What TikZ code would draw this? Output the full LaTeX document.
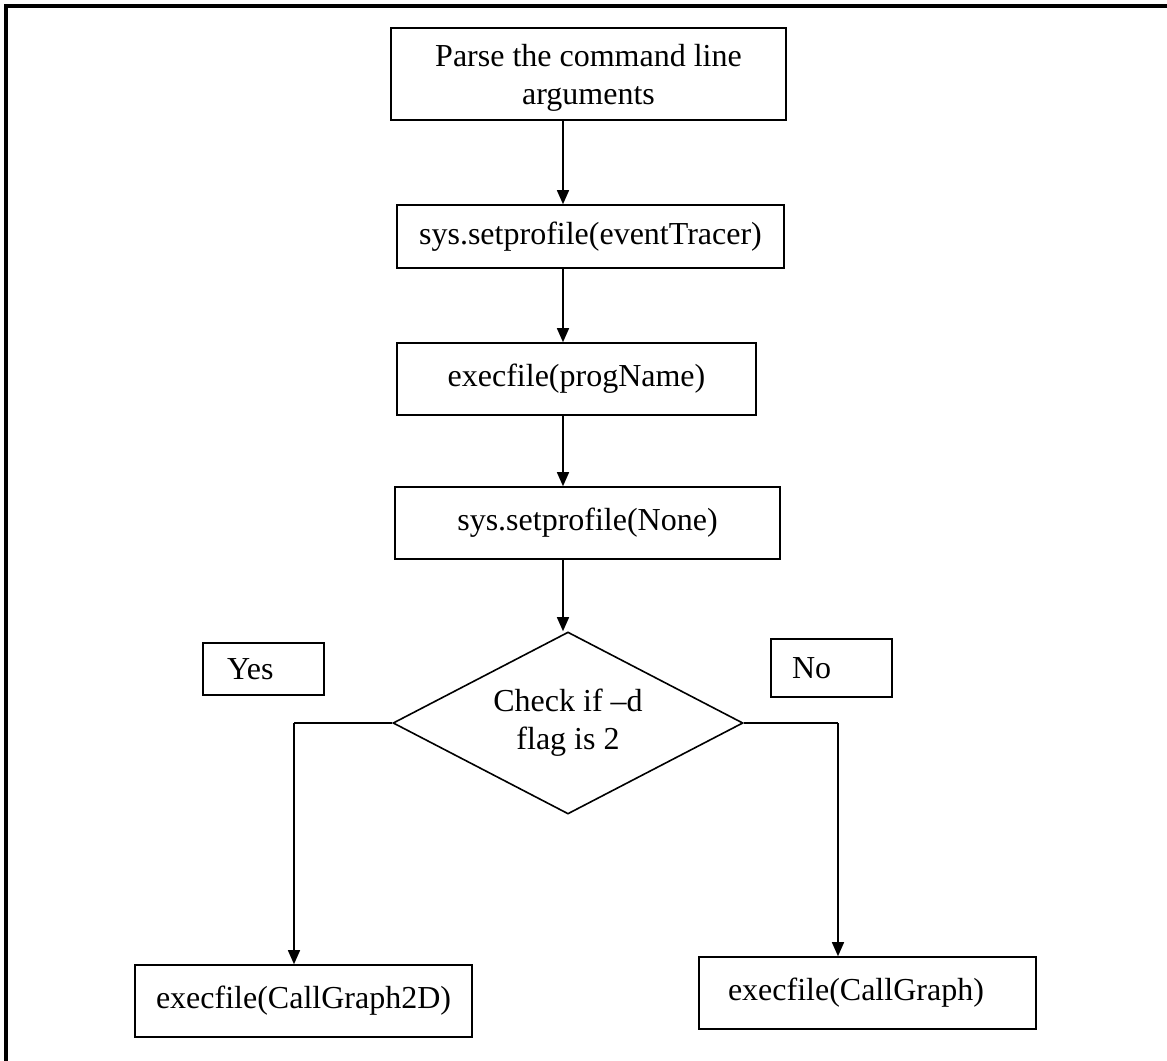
\documentclass[tikz,border=0pt]{standalone}
\usepackage{fontspec}
\setmainfont{Liberation Serif}
\usetikzlibrary{shapes.geometric,arrows.meta}
\begin{document}
\begin{tikzpicture}[x=0.75pt,y=-0.75pt,
  every node/.style={font=\fontsize{24}{28.5}\selectfont},
  box/.style={draw,line width=1.2pt,inner sep=0pt,align=center},
  lbox/.style={draw,line width=1.2pt,inner ysep=0pt,align=left},
  arr/.style={line width=1.1pt,-{Triangle[length=10.5pt,width=9pt]}},
  lin/.style={line width=1.1pt}]
\useasboundingbox (0,0) rectangle (1167,1060);
\draw[line width=2.3pt] (6,1062) -- (6,6) -- (1169,6);

\node[box,minimum width=296.25pt,minimum height=69pt] (b1) at (588.5,74)
  {\rule{0pt}{22pt}Parse the command line\\arguments};
\node[box,minimum width=290.25pt,minimum height=47.25pt] (b2) at (590.5,236.5)
  {sys.setprofile(eventTracer)};
\node[box,minimum width=269.25pt,minimum height=54pt] (b3) at (576.5,379)
  {execfile(progName)};
\node[box,minimum width=288.75pt,minimum height=54pt] (b4) at (587.5,523)
  {sys.setprofile(None)};
\node[diamond,draw,line width=1.2pt,aspect=1.92,minimum width=262.5pt,minimum height=136.5pt,
  inner sep=0pt,align=center] (d) at (568,723) {Check if \textendash d\\flag is 2};
\node[lbox,inner xsep=18pt,text width=54.75pt,minimum height=39pt] (yes) at (263.5,669) {Yes};
\node[lbox,inner xsep=15.75pt,text width=59.25pt,minimum height=43.5pt] (no) at (831.5,668) {No};
\node[box,minimum width=252.75pt,minimum height=54pt] (b5) at (303.5,1001)
  {execfile(CallGraph2D)};
\node[lbox,inner xsep=21.75pt,text width=209.25pt,minimum height=54pt] (b6) at (867.5,993)
  {execfile(CallGraph)};

\coordinate (axis) at (563,0);
\coordinate (yx) at (294,0);
\coordinate (nx) at (838,0);

\draw[arr] (b1.south -| axis) -- (b2.north -| axis);
\draw[arr] (b2.south -| axis) -- (b3.north -| axis);
\draw[arr] (b3.south -| axis) -- (b4.north -| axis);
\draw[arr] (b4.south -| axis) -- (d.north -| axis);
\draw[lin] (d.west) -- (d.west -| yx);
\draw[arr] (d.west -| yx) -- (b5.north -| yx);
\draw[lin] (d.east) -- (d.east -| nx);
\draw[arr] (d.east -| nx) -- (b6.north -| nx);
\end{tikzpicture}
\end{document}
